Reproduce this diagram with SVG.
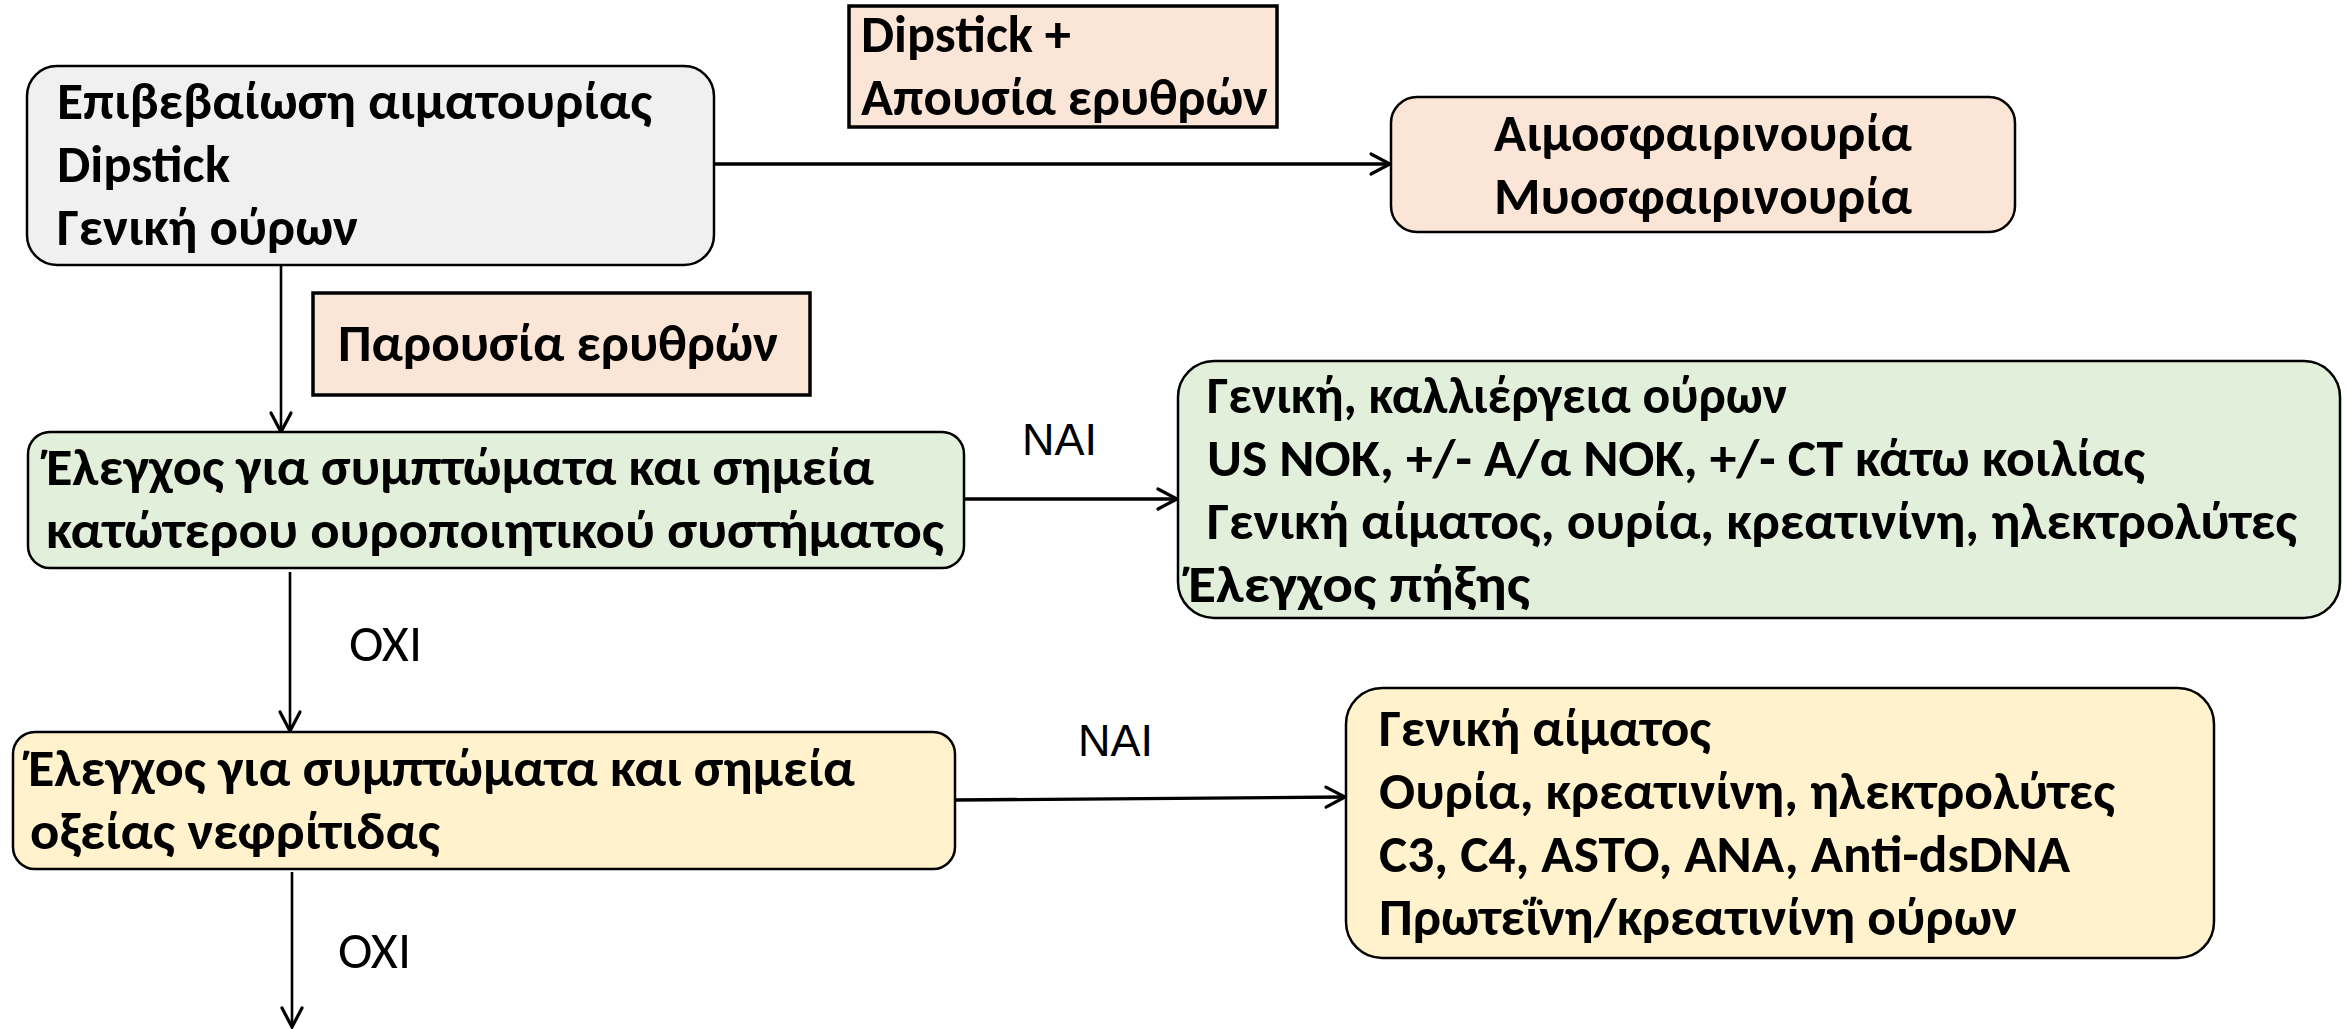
<svg xmlns="http://www.w3.org/2000/svg" width="2348" height="1029" viewBox="0 0 2348 1029">
<style>
.bx{stroke:#000;stroke-width:2.5}
.lb{stroke:#000;stroke-width:3.5}
.t{font-family:"Carlito","Noto Sans",sans-serif;font-weight:bold;font-size:52px;fill:#000}
.nai{font-family:"Liberation Sans",Arial,sans-serif;font-size:45px;fill:#000}
.oxi{font-family:"Carlito","Noto Sans",sans-serif;font-size:51px;fill:#000}
.c{fill:none;stroke:#000}
.h{stroke-width:3.3}
.v{stroke-width:2.6}
</style>
<defs>
<marker id="ah" markerUnits="userSpaceOnUse" markerWidth="26" markerHeight="26" viewBox="0 0 26 26" refX="22" refY="13" orient="auto">
<path d="M3,3 L22,13 L3,23" fill="none" stroke="#000" stroke-width="3.2" stroke-linecap="round" stroke-linejoin="miter"/>
</marker>
</defs>
<rect width="2348" height="1029" fill="#fff"/>

<g id="connectors">
<line class="c h" x1="714" y1="164" x2="1390" y2="164" marker-end="url(#ah)"/>
<line class="c v" x1="281" y1="262" x2="281" y2="432" marker-end="url(#ah)"/>
<line class="c h" x1="964" y1="499" x2="1177" y2="499" marker-end="url(#ah)"/>
<line class="c v" x1="290" y1="572" x2="290" y2="731" marker-end="url(#ah)"/>
<line class="c h" x1="955" y1="800" x2="1345" y2="797" marker-end="url(#ah)"/>
<line class="c v" x1="292" y1="872" x2="292" y2="1027" marker-end="url(#ah)"/>
<text class="nai" x="1022" y="455">NAI</text>
<text class="oxi" x="349" y="661" textLength="73" lengthAdjust="spacingAndGlyphs">OXI</text>
<text class="nai" x="1078" y="756">NAI</text>
<text class="oxi" x="338" y="968" textLength="73" lengthAdjust="spacingAndGlyphs">OXI</text>
</g>

<g id="n-confirm">
<rect class="bx" x="27" y="66" width="687" height="199" rx="30" fill="#f0f0f0"/>
<text class="t" x="57" y="119" textLength="595" lengthAdjust="spacingAndGlyphs">Επιβεβαίωση αιματουρίας</text>
<text class="t" x="57" y="182" textLength="173" lengthAdjust="spacingAndGlyphs">Dipstick</text>
<text class="t" x="57" y="245" textLength="301" lengthAdjust="spacingAndGlyphs">Γενική ούρων</text>
</g>

<g id="l-dipstick">
<rect class="lb" x="849" y="6" width="428" height="121" fill="#fbe5d6"/>
<text class="t" x="861" y="52" textLength="210" lengthAdjust="spacingAndGlyphs">Dipstick +</text>
<text class="t" x="861" y="115" textLength="407" lengthAdjust="spacingAndGlyphs">Απουσία ερυθρών</text>
</g>

<g id="n-hemo">
<rect class="bx" x="1391" y="97" width="624" height="135" rx="26" fill="#fbe5d6"/>
<text class="t" x="1494" y="151" textLength="418" lengthAdjust="spacingAndGlyphs">Αιμοσφαιρινουρία</text>
<text class="t" x="1494" y="214" textLength="418" lengthAdjust="spacingAndGlyphs">Μυοσφαιρινουρία</text>
</g>

<g id="l-rbc">
<rect class="lb" x="313" y="293" width="497" height="102" fill="#fbe5d6"/>
<text class="t" x="338" y="361" textLength="440" lengthAdjust="spacingAndGlyphs">Παρουσία ερυθρών</text>
</g>

<g id="n-lower">
<rect class="bx" x="28" y="432" width="936" height="136" rx="22" fill="#e2efda"/>
<text class="t" x="46" y="485" textLength="828" lengthAdjust="spacingAndGlyphs">Έλεγχος για συμπτώματα και σημεία</text>
<text class="t" x="46" y="548" textLength="898" lengthAdjust="spacingAndGlyphs">κατώτερου ουροποιητικού συστήματος</text>
</g>

<g id="n-lower-tests">
<rect class="bx" x="1178" y="361" width="1162" height="257" rx="36" fill="#e2efda"/>
<text class="t" x="1207" y="413" textLength="580" lengthAdjust="spacingAndGlyphs">Γενική, καλλιέργεια ούρων</text>
<text class="t" x="1207" y="476" textLength="938" lengthAdjust="spacingAndGlyphs">US NOK, +/- A/α NOK, +/- CT κάτω κοιλίας</text>
<text class="t" x="1207" y="539" textLength="1090" lengthAdjust="spacingAndGlyphs">Γενική αίματος, ουρία, κρεατινίνη, ηλεκτρολύτες</text>
<text class="t" x="1188" y="602" textLength="342" lengthAdjust="spacingAndGlyphs">Έλεγχος πήξης</text>
</g>

<g id="n-nephritis">
<rect class="bx" x="13" y="732" width="942" height="137" rx="22" fill="#fff2cc"/>
<text class="t" x="28" y="786" textLength="827" lengthAdjust="spacingAndGlyphs">Έλεγχος για συμπτώματα και σημεία</text>
<text class="t" x="30" y="849" textLength="410" lengthAdjust="spacingAndGlyphs">οξείας νεφρίτιδας</text>
</g>

<g id="n-nephritis-tests">
<rect class="bx" x="1346" y="688" width="868" height="270" rx="36" fill="#fff2cc"/>
<text class="t" x="1379" y="746" textLength="332" lengthAdjust="spacingAndGlyphs">Γενική αίματος</text>
<text class="t" x="1379" y="809" textLength="736" lengthAdjust="spacingAndGlyphs">Ουρία, κρεατινίνη, ηλεκτρολύτες</text>
<text class="t" x="1379" y="872" textLength="691" lengthAdjust="spacingAndGlyphs">C3, C4, ASTO, ANA, Anti-dsDNA</text>
<text class="t" x="1379" y="935" textLength="638" lengthAdjust="spacingAndGlyphs">Πρωτεΐνη/κρεατινίνη ούρων</text>
</g>
</svg>
